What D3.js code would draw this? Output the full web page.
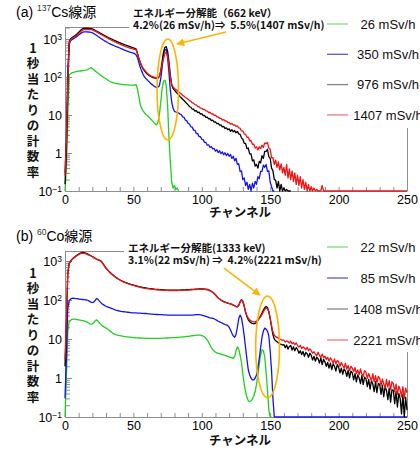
<!DOCTYPE html>
<html><head><meta charset="utf-8">
<script src="https://cdn.jsdelivr.net/npm/d3@7"></script>
<style>body{margin:0;background:#fff}svg{display:block}</style>
</head><body>
<svg id="c" width="420" height="449"></svg>
<script>
// ---------------- DATA ----------------
const xTicks = [0, 50, 100, 150, 200, 250];
const yTicks = [0.1, 1, 10, 100, 1000];
const yLabelChars = ["1", "秒", "当", "た", "り", "の", "計", "数", "率"];
const xLabel = "チャンネル";

const legendA = ["26 mSv/h", "350 mSv/h", "976 mSv/h", "1407 mSv/h"];
const legendB = ["22 mSv/h", "85 mSv/h", "1408 mSv/h", "2221 mSv/h"];

// 137Cs spectra, counts per second for channel 0,1,2,...
const cs26 = [
0.1,0.4,8,110,122,128,132,135,138,140,
142,144,146,148,150,152,155,160,168,176,
168,155,145,136,128,120,112,105,99,94,
90,85,80,76,73,71,69,68,67,66,
65,64,64,63,63,62,62,61,61,61,
61,62,63,48,30,19,15,13,11.5,10.5,
9.8,9.0,8.3,7.6,6.9,6.3,5.8,5.5,6.5,10,
22,50,78,82,60,18,2.5,0.6,0.17,0.12,
0.14,0.11,0.12,0.1];
const cs350 = [
0.3,2.5,150,700,900,960,1010,1060,1120,1190,
1270,1360,1450,1510,1540,1550,1540,1530,1520,1500,
1460,1390,1320,1250,1180,1110,1050,990,940,890,
850,810,775,745,715,690,665,640,620,600,
580,560,540,520,505,490,475,460,447,435,
425,410,380,320,240,180,145,120,102,92,
85,78,72,66,62,58,55,53,54,59,
90,180,380,530,520,320,130,45,22,15,
12.5,12,11.5,11.4,10.6,10.3,8.9,8.7,7.3,7.1,
6.0,5.8,4.9,4.8,4.0,3.95,3.25,3.25,2.7,2.7,
2.3,2.25,1.9,1.9,1.6,1.65,1.4,1.48,1.28,1.32,
1.12,1.22,1.02,1.15,0.96,1.07,0.9,1.02,0.85,0.97,
0.82,0.92,0.72,0.82,0.62,0.72,0.5,0.52,0.33,0.34,
0.2,0.22,0.14,0.17,0.11,0.15,0.1,0.16,0.12,0.18,
0.15,0.24,0.21,0.33,0.33,0.48,0.42,0.5,0.33,0.34,
0.17,0.13,0.1,0];
const cs976 = [
0.15,1,40,800,1000,1080,1150,1210,1290,1380,
1500,1640,1780,1870,1920,1930,1920,1910,1900,1880,
1850,1780,1700,1620,1550,1480,1410,1350,1290,1230,
1180,1130,1080,1040,1000,960,920,890,860,830,
800,770,745,720,700,680,660,640,620,600,
585,570,545,420,310,240,195,165,148,132,
122,113,107,102,98,95,93,92,94,104,
145,260,450,600,630,480,250,110,62,50,
45,41,37.5,34,31,28.5,26,24,22,20,
18.5,16.5,16,14.2,14.3,12.6,13,11.5,11.9,10.6,
10.8,9.6,9.7,8.7,8.8,7.9,8.0,7.1,7.3,6.5,
6.6,5.9,6.0,5.4,5.5,4.9,5.0,4.4,4.6,4.1,
4.3,3.7,4.1,3.6,3.9,3.4,3.7,3.2,3.1,2.5,
2.3,1.8,1.8,1.3,1.35,0.95,0.95,0.62,0.66,0.45,
0.5,0.4,0.6,0.55,0.85,0.72,1.1,1.1,1.25,0.8,
0.72,0.4,0.34,0.2,0.19,0.12,0.18,0.1,0.15,0,
0.12,0,0.11,0,0.1,0];
const cs1407 = [
0.25,2,60,750,950,1020,1080,1130,1200,1280,
1380,1500,1620,1720,1780,1790,1780,1770,1770,1760,
1740,1680,1610,1540,1470,1400,1340,1280,1220,1160,
1110,1060,1010,970,930,890,860,820,790,760,
730,710,680,660,640,620,600,585,570,555,
545,535,520,400,300,240,200,175,155,140,
128,118,111,106,102,99,97,96,97,105,
140,220,300,420,450,360,200,100,64,55,
50,47,44,41,38,36,33,31,29,27.5,
26,24,23,21,20.5,18.8,18.5,16.8,16.5,15.2,
15,13.9,14,12.9,12.7,11.6,11.8,10.7,10.8,9.8,
9.9,9,8.9,8.2,8.2,7.4,7.6,6.9,7.0,6.3,
6.4,5.7,6.0,5.4,5.5,5.0,5.2,4.6,4.5,3.8,
3.8,3.2,3.1,2.6,2.6,2.1,2.1,1.7,1.7,1.35,
1.45,1.2,1.45,1.3,1.6,1.4,1.85,1.75,1.9,1.35,
1.25,0.75,0.75,0.5,0.65,0.42,0.58,0.36,0.52,0.3,
0.42,0.26,0.5,0.22,0.38,0.2,0.34,0.18,0.3,0.15,
0.26,0.14,0.24,0.12,0.2,0.11,0.17,0.1,0.15,0.1,
0.13,0.1,0.12,0,0.11,0.1,0,0.1,0.14,0,
0.1,0,0,0.1,0,0,0,0,0,0,
0,0,0,0,0,0,0,0,0,0,
0,0,0,0,0,0,0,0,0,0,
0,0,0,0,0,0,0,0,0,0,
0,0,0,0,0,0,0,0,0,0,
0,0,0,0,0,0,0,0,0,0,
0];

// 60Co spectra
const co22 = [
0.1,1,15,27,30,32,32.5,32.5,32,31.5,
31,30.5,30,29.5,29,28,27,26,24.5,24,
24.5,26,29,31,29,26,24,22,21,20,
19,18,17,16,15,14,13.5,13,12.7,12.4,
12.2,12,11.8,11.6,11.5,11.4,11.3,11.2,11.1,11,
10.9,10.8,10.7,10.7,10.6,10.6,10.5,10.5,10.5,10.4,
10.4,10.4,10.4,10.4,10.4,10.4,10.4,10.4,10.4,10.4,
10.4,10.5,10.5,10.5,10.6,10.6,10.7,10.7,10.8,10.8,
10.9,10.9,11,11,11.1,11.2,11.3,11.4,11.5,11.6,
11.7,11.8,12,12.1,12.2,12.3,12.5,12.6,12.6,12.5,
12.2,11.8,11.2,10.4,9.4,8.2,7,6,5.3,4.9,
4.6,4.4,4.3,4.2,4.1,4.0,3.9,3.8,3.7,3.6,
3.5,3.4,3.3,3.2,3.5,5,6.3,5.5,3.8,2.5,
1.3,0.7,0.45,0.32,0.26,0.25,0.26,0.29,0.34,0.45,
0.7,1.2,2.2,3.8,5.3,5,3.5,1.4,0.5,0.15,
0.1,0];
const co85 = [
0.3,3,60,95,105,110,111,110,109,108,
106,105,104,103,102,101,100,97,92,88,
86,88,97,108,105,95,87,80,76,72,
69,67,65,63,61,59,57,55,54,53,
52,51,50.5,50,49.5,49,48.5,48,47.5,47,
47,46.5,46.5,46,46,46,45.5,45.5,45,45,
44.5,44,44,43.5,43.5,43,43,42.5,42.5,42,
42,42,41.5,41.5,41.5,41,41,41,41,41,
41,41,41,41,41,41,41,41,41,41,
41,41,41,41,41.5,41.5,42,42,42,41.5,
41,40,39,38,37,36,35,34.5,34,33,
31.5,30,28.5,27.5,26.5,25.5,24.5,23.5,23,22,
20,17,14,12,11,13,20,33,41,35,
22,12,6,3,1.6,1.2,1.0,0.9,0.9,1.0,
1.2,1.8,3.2,6,11,16,19,18,16,12,
5,1.5,0.3,0,0,0,0,0,0,0,
0,0,0,0,0,0,0,0,0,0,
0,0,0,0,0,0,0,0,0,0,
0,0,0,0,0,0,0,0,0,0,
0,0,0,0,0,0,0,0,0,0,
0,0,0,0,0,0,0,0,0,0,
0,0,0,0,0,0,0,0,0,0,
0,0,0,0,0,0,0,0,0,0,
0,0,0,0,0,0,0,0,0,0,
0,0,0,0,0,0,0,0,0,0,
0];
const co1408 = [
2,20,450,870,980,1100,1180,1260,1350,1430,
1510,1580,1630,1650,1640,1600,1540,1480,1420,1360,
1300,1240,1180,1120,1080,1050,1010,930,830,740,
660,600,550,508,472,442,412,387,366,346,
331,316,303,293,283,275,267,260,253,247,
241,236,231,226,221,217,213,209,206,203,
200,198,196,194,192,190,188,187,186,185,
184,183,182,181,180,180,179,179,179,179,
179,179,179,180,180,181,181,182,182,183,
184,185,186,187,188,189,190,191,192,192,
192,192,191,189,186,181,175,167,158,147,
135,123,113,106,100,95,91,88,85,83,
81,79,77,74,71,68,67,73,90,102,
93,70,48,37,31,28,26,25,24.5,25,
27,30,34,39,46,55,63,68,64,50,
33,20,13,10,9,8.5,8,7.5,7.3,7.0,
7.2,6.0,7.0,5.5,6.4,6.8,5.2,6.3,5.0,6.0,
5.4,4.3,5.0,4.0,4.8,3.6,4.5,4.2,3.4,4.3,
3.8,2.9,3.6,2.7,3.4,3.1,2.4,3.3,2.2,3.0,
2.6,2.0,2.5,1.8,2.4,1.65,2.3,2.0,1.5,2.2,
1.9,1.35,1.8,1.25,1.7,1.5,1.1,1.6,1.0,1.5,
1.35,0.9,1.3,0.8,1.2,1.0,0.72,1.15,0.68,1.05,
0.95,0.6,0.92,0.52,0.85,0.7,0.45,0.8,0.42,0.72,
0.7,0.38,0.66,0.33,0.6,0.48,0.28,0.55,0.24,0.5,
0.48,0.22,0.45,0.18,0.4,0.3,0.12,0.38,0.1,0.32,
0.15];
const co2221 = [
3,30,500,850,950,1070,1150,1230,1310,1390,
1460,1520,1560,1580,1570,1540,1490,1440,1390,1340,
1280,1220,1160,1110,1070,1040,1000,920,820,730,
650,590,540,500,465,435,405,380,360,340,
325,310,298,288,278,270,262,255,248,242,
236,231,226,221,216,212,208,204,201,198,
196,194,192,190,188,186,184,183,182,181,
180,179,178,177,176,176,175,175,175,175,
175,175,175,176,176,177,177,178,178,179,
180,181,182,183,184,185,186,187,188,188,
188,188,187,185,182,178,172,165,157,147,
135,123,113,106,100,95,91,88,85,83,
81,79,77,74,71,68,67,72,88,100,
92,70,50,40,34,31,29,28,27.5,27.6,
29,31,34,37,42,49,57,62,60,50,
35,22,15,12.6,11.5,11,10.5,10,9.6,9.3,
9.4,8.4,8.9,8.6,7.9,8.8,7.6,8.1,7.2,7.9,
6.8,6.2,6.9,5.7,6.3,5.9,5.3,6.1,5.0,5.6,
5.0,4.3,4.7,4.1,3.7,4.6,3.8,3.4,4.1,3.3,
3.6,3.0,3.4,2.7,3.3,2.9,2.4,3.1,2.3,2.8,
2.6,2.0,2.5,2.1,1.8,2.4,1.7,2.1,1.55,2.0,
1.8,1.45,1.85,1.3,1.6,1.2,1.7,1.25,1.1,1.55,
1.4,0.98,1.3,1.05,0.85,1.3,0.8,1.15,0.75,1.1,
1.0,0.65,0.95,0.7,0.55,0.92,0.58,0.85,0.5,0.8,
0.72,0.45,0.7,0.38,0.62,0.5,0.33,0.6,0.3,0.55,
0.42];

// ---------------- STYLE / LAYOUT ----------------
const colors = ["#1fd21f", "#1414f0", "#000000", "#f01414"];
const legendColors = ["#7ede7e", "#5a5ad2", "#858585", "#ee7a7a"];
const orange = "#ffb300";
const axisCol = "#8e8e8e";
const fLatin = "'Liberation Sans', Arial, 'Noto Sans CJK JP', sans-serif";
const fJP = "'Noto Sans CJK JP', 'Noto Sans CJK SC', sans-serif";

const svg = d3.select("#c");
const defs = svg.append("defs");
defs.append("marker").attr("id", "ah").attr("viewBox", "0 0 10 10")
  .attr("refX", 9).attr("refY", 5).attr("markerWidth", 5).attr("markerHeight", 5)
  .attr("markerUnits", "strokeWidth").attr("orient", "auto")
  .append("path").attr("d", "M0,0 L10,5 L0,10 Z").attr("fill", orange);

const panels = [
  { letter: "(a)", iso: "137", elem: "Cs線源", top: 27, bottom: 191, ymax: Math.pow(10, 3.316),
    series: [cs26, cs350, cs976, cs1407], legend: legendA, legY: 24, legStep: 30.3,
    topEnd: 129, rightStart: 128, titleY: 17, xlabY: 217,
    yLabY: 48, ann1: "エネルギー分解能（662 keV）", ann2: "4.2%(26 mSv/h)⇒  5.5%(1407 mSv/h)",
    annX: 133, annY: 16.5,
    ell: { c0: 67.3, c1: 83, v0: 2.2, v1: 1000 },
    arrow: { c0: 117.7, v0: 1530, c1: 81.9, v1: 740 } },
  { letter: "(b)", iso: "60", elem: "Co線源", top: 251, bottom: 417, ymax: Math.pow(10, 3.256),
    series: [co22, co85, co1408, co2221], legend: legendB, legY: 247, legStep: 31,
    topEnd: 124, rightStart: 352, titleY: 241, xlabY: 445,
    yLabY: 273, ann1: "エネルギー分解能(1333 keV)", ann2: "3.1%(22 mSv/h) ⇒  4.2%(2221 mSv/h)",
    annX: 128, annY: 251.5,
    ell: { c0: 139.4, c1: 156.8, v0: 0.31, v1: 126 },
    arrow: { c0: 116.2, v0: 660, c1: 142.5, v1: 134 } }
];

const x = d3.scaleLinear().domain([0, 250]).range([65, 407]);

panels.forEach(p => {
  const y = d3.scaleLog().domain([0.1, p.ymax]).range([p.bottom, p.top]);
  const g = svg.append("g");

  // minor log ticks
  const minors = [];
  for (let k = -1; k <= 3; k++) for (let m = 2; m <= 9; m++) {
    const v = m * Math.pow(10, k); if (v <= p.ymax) minors.push(v);
  }
  const yMinor = g.append("g").attr("transform", "translate(65,0)")
    .call(d3.axisLeft(y).tickValues(minors).tickSize(-5).tickSizeOuter(0).tickFormat(""));
  yMinor.select(".domain").remove();
  const yAx = g.append("g").attr("transform", "translate(65,0)")
    .call(d3.axisLeft(y).tickValues(yTicks).tickSize(-7).tickSizeOuter(0).tickPadding(3).tickFormat(""));
  yAx.selectAll(".tick text").each(function (d) {
    const t = d3.select(this).text("").attr("font-family", fLatin).attr("font-size", 12.5)
      .attr("fill", "#000").attr("dy", "0.38em");
    const e = Math.round(Math.log10(d));
    if (e === 0) t.text("1");
    else if (e === 1) t.text("10");
    else {
      t.append("tspan").text("10");
      t.append("tspan").text(e < 0 ? "−1" : String(e)).attr("font-size", 8.5).attr("dy", "-0.5em");
    }
  });
  const xAx = g.append("g").attr("transform", `translate(0,${p.bottom})`)
    .call(d3.axisBottom(x).tickValues(d3.range(0, 251, 10)).tickSize(-4).tickSizeOuter(0).tickPadding(4)
      .tickFormat(d => xTicks.includes(d) ? String(d) : ""));
  xAx.selectAll(".tick text").attr("font-family", fLatin).attr("font-size", 12.5).attr("fill", "#000");
  [yMinor, yAx, xAx].forEach(a => { a.selectAll("line").attr("stroke", axisCol); a.selectAll(".domain").attr("stroke", axisCol); });

  // remaining frame parts (partly hidden by annotation and legend)
  g.append("line").attr("x1", 65).attr("x2", p.topEnd).attr("y1", p.top + 0.5).attr("y2", p.top + 0.5).attr("stroke", axisCol);
  g.append("line").attr("x1", 407.5).attr("x2", 407.5).attr("y1", p.rightStart).attr("y2", p.bottom).attr("stroke", axisCol);

  // spectra
  const line = d3.line().x((d, i) => x(i)).y(d => y(Math.max(d, 0.1)));
  p.series.forEach((s, i) => {
    g.append("path").datum(s.slice(0, 251)).attr("d", line).attr("fill", "none")
      .attr("stroke", colors[i]).attr("stroke-width", 1.3).attr("stroke-linejoin", "round");
  });

  // ellipse + arrow
  const e = p.ell;
  const ex0 = x(e.c0), ex1 = x(e.c1), ey0 = y(e.v0), ey1 = y(e.v1);
  g.append("ellipse").attr("cx", (ex0 + ex1) / 2).attr("cy", (ey0 + ey1) / 2)
    .attr("rx", (ex1 - ex0) / 2).attr("ry", (ey0 - ey1) / 2)
    .attr("fill", "none").attr("stroke", orange).attr("stroke-width", 1.6);
  const a = p.arrow;
  g.append("line").attr("x1", x(a.c0)).attr("y1", y(a.v0)).attr("x2", x(a.c1)).attr("y2", y(a.v1))
    .attr("stroke", orange).attr("stroke-width", 1.6).attr("marker-end", "url(#ah)");

  // title
  const t = g.append("text").attr("x", 16).attr("y", p.titleY).attr("font-family", fLatin)
    .attr("font-size", 14).attr("fill", "#000").style("white-space", "pre");
  t.append("tspan").text(p.letter + " ");
  t.append("tspan").text(p.iso).attr("font-size", 8.5).attr("dy", -6).attr("fill", "#333");
  t.append("tspan").text(p.elem).attr("dy", 6);

  // y label (vertical stack, one text element)
  const yl = g.append("text").attr("text-anchor", "middle").attr("font-family", fJP)
    .attr("font-weight", "bold").attr("font-size", 12.5).attr("fill", "#111");
  yLabelChars.forEach((c, i) => {
    yl.append("tspan").attr("x", 33).attr("y", p.yLabY + i * 15.5 + 4.5).text(c);
  });
  // x label
  g.append("text").attr("x", 240).attr("y", p.xlabY).attr("text-anchor", "middle")
    .attr("font-family", fJP).attr("font-weight", "bold").attr("font-size", 12.5).attr("fill", "#111").text(xLabel);

  // annotation text
  g.append("text").attr("x", p.annX).attr("y", p.annY).attr("font-family", fJP).attr("font-weight", "bold")
    .attr("font-size", 10.5).attr("fill", "#111").text(p.ann1);
  g.append("text").attr("x", p.annX).attr("y", p.annY + 12.5).attr("font-family", fJP).attr("font-weight", "bold")
    .attr("font-size", 10.5).attr("fill", "#111").style("white-space", "pre").text(p.ann2);

  // legend
  p.legend.forEach((lab, i) => {
    const ly = p.legY + i * p.legStep;
    g.append("line").attr("x1", 327).attr("x2", 348).attr("y1", ly).attr("y2", ly)
      .attr("stroke", legendColors[i]).attr("stroke-width", 1.3);
    g.append("text").attr("x", 388).attr("y", ly).attr("dy", "0.36em").attr("text-anchor", "middle")
      .attr("font-family", fLatin).attr("font-size", 13).attr("fill", "#111").text(lab);
  });
});
</script>
</body></html>
